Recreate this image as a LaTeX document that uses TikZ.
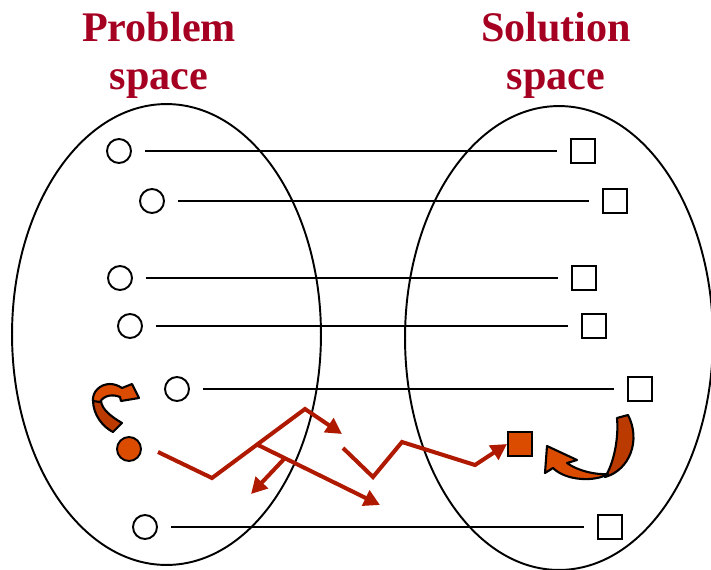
\documentclass[tikz,border=0pt]{standalone}
\usepackage{fontspec}
\setmainfont{Liberation Serif}
\usetikzlibrary{arrows.meta,shapes.geometric}
\definecolor{titlered}{RGB}{165,0,33}
\definecolor{pathred}{RGB}{175,25,0}
\definecolor{blockorange}{RGB}{220,76,0}
\definecolor{blockdark}{RGB}{186,58,0}

\begin{document}
\begin{tikzpicture}[x=0.02cm, y=-0.02cm]
\tikzstyle{title} = [text=titlered, font=\bfseries\fontsize{24}{27.5}\selectfont, align=center, anchor=north, inner sep=0pt]
\tikzstyle{space} = [ellipse, draw, line width=1.1pt, inner sep=0pt]
\tikzstyle{state} = [circle, draw, line width=1.1pt, minimum size=0.48cm, inner sep=0pt]
\tikzstyle{sol} = [rectangle, draw, line width=1.1pt, minimum size=0.48cm, inner sep=0pt]
\tikzstyle{map} = [line width=1.1pt, shorten <=0.26cm, shorten >=0.26cm]
\tikzstyle{search} = [pathred, line width=2.3pt]
\tikzstyle{arrow} = [search, -{Triangle[length=0.32cm, width=0.33cm]}]
\tikzstyle{block} = [draw, line width=1.2pt, fill=blockorange, line join=round]

\useasboundingbox (0,0) rectangle (711,569);

\node[space, minimum width=6.18cm, minimum height=9.22cm] (probspace) at (166.5,334.5) {};
\node[space, minimum width=6.16cm, minimum height=9.28cm] (solspace) at (559,338) {};
\node[title] (probtitle) at (159,12) {Problem\\space};
\node[title] (soltitle) at (556,12) {Solution\\space};

\node[state] (p1) at (119,151) {};
\node[state] (p2) at (152,201) {};
\node[state] (p3) at (120,278) {};
\node[state] (p4) at (130,326) {};
\node[state] (p5) at (177,389) {};
\node[state] (p6) at (145,527) {};
\node[state, fill=blockorange] (pstart) at (129,449) {};

\node[sol] (s1) at (583,151) {};
\node[sol] (s2) at (615,201) {};
\node[sol] (s3) at (584,278) {};
\node[sol] (s4) at (594,326) {};
\node[sol] (s5) at (640,389) {};
\node[sol] (s6) at (610,527) {};
\node[sol, fill=blockorange] (sgoal) at (520,444) {};

\draw[map] (p1) -- (s1);
\draw[map] (p2) -- (s2);
\draw[map] (p3) -- (s3);
\draw[map] (p4) -- (s4);
\draw[map] (p5) -- (s5);
\draw[map] (p6) -- (s6);

\coordinate (z0) at (158,452);
\coordinate (z1) at (212,478);
\coordinate (z2) at (305,409);
\coordinate (z3) at (342,434);
\coordinate (b1) at (258,445);
\coordinate (b2) at (380,505);
\coordinate (b3) at (285,458);
\coordinate (b4) at (251,494);
\coordinate (w1) at (343,448);
\coordinate (w2) at (373,477);
\coordinate (w3) at (402,442);
\coordinate (w4) at (475,465);

\draw[arrow] (z0) -- (z1) -- (z2) -- (z3);
\draw[arrow] (b1) -- (b2);
\draw[arrow] (b3) -- (b4);
\draw[arrow] (w1) -- (w2) -- (w3) -- (w4) -- (sgoal.west);

\draw[block, fill=blockdark] (93,400) .. controls (93,415) and (103,427) .. (113,432) -- (122,423) .. controls (112,417) and (102,410) .. (101,401) -- cycle;
\draw[block] (93,401) .. controls (92,392) and (100,384) .. (110,384) .. controls (115,384) and (119,386) .. (122,388) -- (132,384) -- (139,398) -- (121,401) -- (120,397) .. controls (113,394) and (104,395) .. (100,402) -- cycle;

\draw[block, fill=blockdark] (628,415) .. controls (641,440) and (630,470) .. (605,477) .. controls (613,465) and (619,440) .. (617,418) -- cycle;
\draw[block] (608,474) .. controls (595,482) and (566,481) .. (553,468) -- (545,473) -- (547,446) -- (577,460) -- (567,463) .. controls (578,471) and (596,475) .. (608,474) -- cycle;
\end{tikzpicture}
\end{document}
